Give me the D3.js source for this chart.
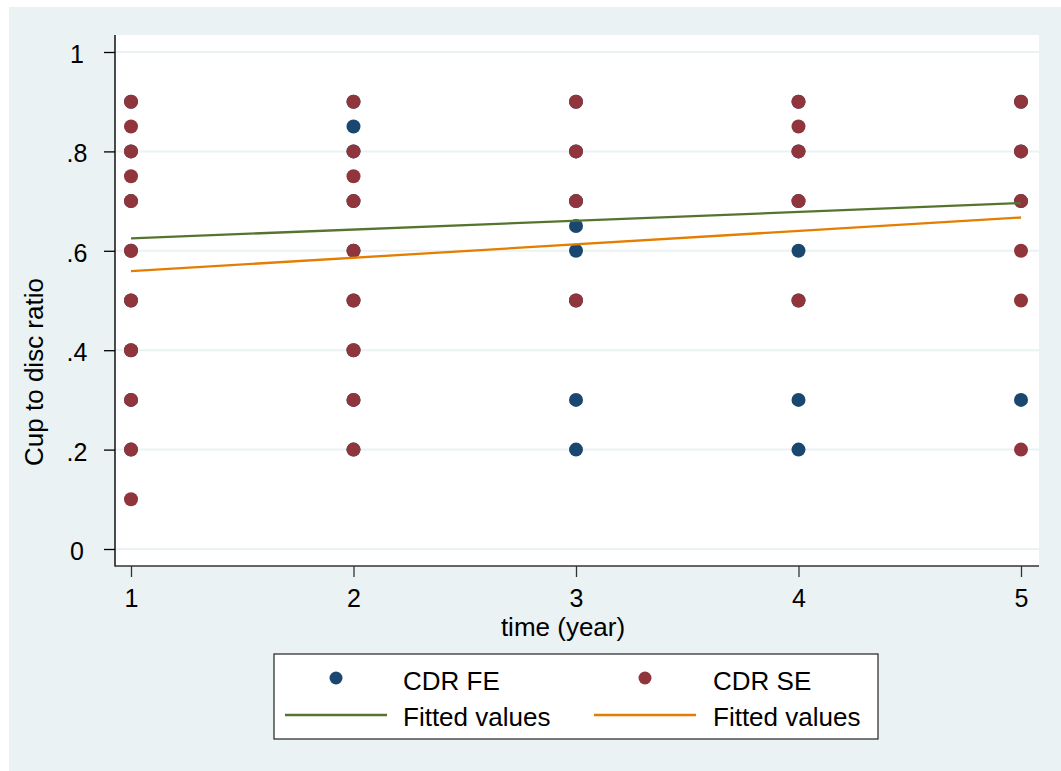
<!DOCTYPE html>
<html><head><meta charset="utf-8">
<script src="https://cdn.jsdelivr.net/npm/d3@7"></script>
<style>
html,body{margin:0;padding:0;background:#fff;}
svg{display:block;font-family:"Liberation Sans",Arial,Helvetica,sans-serif;}
</style></head>
<body>
<svg id="chart" width="1061" height="771"></svg>
<script>
// ---- data ----
const years = [1, 2, 3, 4, 5];
const yTicks = [0, 0.2, 0.4, 0.6, 0.8, 1];
const yTickLabels = ["0", ".2", ".4", ".6", ".8", "1"];
// CDR FE (first eye) observations: [year, ratio]
const cdrFE = [
  [1,0.9],[1,0.8],[1,0.7],[1,0.6],[1,0.5],[1,0.4],[1,0.3],[1,0.2],
  [2,0.9],[2,0.85],[2,0.8],[2,0.7],[2,0.6],[2,0.5],[2,0.4],[2,0.3],[2,0.2],
  [3,0.9],[3,0.8],[3,0.7],[3,0.65],[3,0.6],[3,0.5],[3,0.3],[3,0.2],
  [4,0.9],[4,0.8],[4,0.7],[4,0.6],[4,0.5],[4,0.3],[4,0.2],
  [5,0.9],[5,0.8],[5,0.7],[5,0.3]
];
// CDR SE (second eye) observations: [year, ratio]
const cdrSE = [
  [1,0.9],[1,0.85],[1,0.8],[1,0.75],[1,0.7],[1,0.6],[1,0.5],[1,0.4],[1,0.3],[1,0.2],[1,0.1],
  [2,0.9],[2,0.8],[2,0.75],[2,0.7],[2,0.6],[2,0.5],[2,0.4],[2,0.3],[2,0.2],
  [3,0.9],[3,0.8],[3,0.7],[3,0.5],
  [4,0.9],[4,0.85],[4,0.8],[4,0.7],[4,0.5],
  [5,0.9],[5,0.8],[5,0.7],[5,0.6],[5,0.5],[5,0.2]
];
// Fitted values (linear fit endpoints)
const fitYears = [1, 5];
const fitFE = [0.625, 0.696];
const fitSE = [0.559, 0.667];
const legendLabels = ["CDR FE", "CDR SE", "Fitted values", "Fitted values"];
const xTitle = "time (year)";
const yTitle = "Cup to disc ratio";

// ---- style ----
const C = {bg:"#eaf2f3", grid:"#eaf2f3", fe:"#1a476f", se:"#90353b", fitFE:"#55752f", fitSE:"#e37e00"};
const svg = d3.select("#chart");
const plot = {l:115, r:1039, t:35, b:566};

svg.append("rect").attr("x",9).attr("y",7).attr("width",1061-9).attr("height",771-7).attr("fill",C.bg);
svg.append("rect").attr("x",plot.l).attr("y",plot.t).attr("width",plot.r-plot.l).attr("height",plot.b-plot.t).attr("fill","#fff");

const x = d3.scaleLinear().domain([1,5]).range([131,1021]);
const y = d3.scaleLinear().domain([0,1]).range([549,52]);

// grid
svg.append("g").selectAll("line").data(yTicks).join("line")
  .attr("x1",plot.l).attr("x2",plot.r)
  .attr("y1",d=>y(d)).attr("y2",d=>y(d))
  .attr("stroke",C.grid).attr("stroke-width",2);

// points
const pts = svg.append("g");
pts.selectAll("circle.fe").data(cdrFE).join("circle").attr("class","fe")
  .attr("cx",d=>x(d[0])).attr("cy",d=>y(d[1])).attr("r",7).attr("fill",C.fe);
pts.selectAll("circle.se").data(cdrSE).join("circle").attr("class","se")
  .attr("cx",d=>x(d[0])).attr("cy",d=>y(d[1])).attr("r",7).attr("fill",C.se);

// fitted lines
const line = d3.line().x(d=>x(d[0])).y(d=>y(d[1]));
svg.append("path").datum(fitYears.map((t,i)=>[t,fitFE[i]])).attr("d",line)
  .attr("fill","none").attr("stroke",C.fitFE).attr("stroke-width",2.3);
svg.append("path").datum(fitYears.map((t,i)=>[t,fitSE[i]])).attr("d",line)
  .attr("fill","none").attr("stroke",C.fitSE).attr("stroke-width",2.3);

// axes
const yAxis = svg.append("g").attr("transform",`translate(${plot.l},0)`)
  .call(d3.axisLeft(y).tickValues(yTicks).tickSize(11).tickFormat((d,i)=>yTickLabels[i]));
yAxis.select(".domain").remove();
yAxis.selectAll(".tick line").attr("stroke","#000").attr("stroke-width",1.3);
yAxis.selectAll(".tick text").attr("x",-38).attr("dy","0.42em").attr("text-anchor","middle")
  .attr("font-size",25).attr("fill","#000").attr("font-family",null);

const xAxis = svg.append("g").attr("transform",`translate(0,${plot.b})`)
  .call(d3.axisBottom(x).tickValues(years).tickSize(11).tickPadding(12).tickFormat(d3.format("d")));
xAxis.select(".domain").remove();
xAxis.selectAll(".tick line").attr("stroke","#333").attr("stroke-width",1.3);
xAxis.selectAll(".tick text").attr("font-size",25).attr("fill","#000").attr("font-family",null);

svg.append("line").attr("x1",plot.l).attr("x2",plot.l).attr("y1",plot.t).attr("y2",plot.b+0.6)
  .attr("stroke","#000").attr("stroke-width",1.4);
svg.append("line").attr("x1",plot.l).attr("x2",plot.r).attr("y1",plot.b).attr("y2",plot.b)
  .attr("stroke","#333").attr("stroke-width",1.4);

// titles
svg.append("text").attr("x",563).attr("y",636).attr("text-anchor","middle")
  .attr("font-size",26).attr("fill","#000").text(xTitle);
svg.append("text").attr("transform","translate(43,372) rotate(-90)").attr("text-anchor","middle")
  .attr("font-size",26).attr("fill","#000").text(yTitle);

// legend
const lg = svg.append("g");
lg.append("rect").attr("x",274).attr("y",654).attr("width",604).attr("height",85)
  .attr("fill","#fff").attr("stroke","#222").attr("stroke-width",1.2);
const items = [
  {type:"dot", color:C.fe, sx:336, tx:403, row:0, label:legendLabels[0]},
  {type:"dot", color:C.se, sx:645, tx:713, row:0, label:legendLabels[1]},
  {type:"line", color:C.fitFE, sx:336, tx:403, row:1, label:legendLabels[2]},
  {type:"line", color:C.fitSE, sx:645, tx:713, row:1, label:legendLabels[3]}
];
const rowY = [678, 715];
const rowBase = [690, 726];
items.forEach(it=>{
  if(it.type==="dot"){
    lg.append("circle").attr("cx",it.sx).attr("cy",rowY[it.row]).attr("r",6.5).attr("fill",it.color);
  } else {
    lg.append("line").attr("x1",it.sx-51).attr("x2",it.sx+51).attr("y1",rowY[it.row]).attr("y2",rowY[it.row])
      .attr("stroke",it.color).attr("stroke-width",2.3);
  }
  lg.append("text").attr("x",it.tx).attr("y",rowBase[it.row]).attr("font-size",26).attr("fill","#000").text(it.label);
});
</script>
</body></html>
